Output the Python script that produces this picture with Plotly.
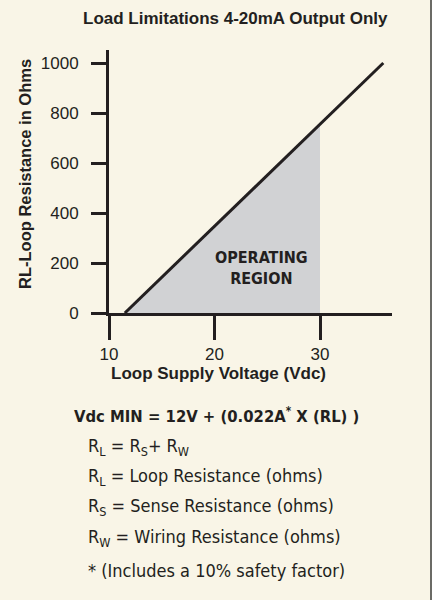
import plotly.graph_objects as go

# ---- data ----
line_v = [11.5, 36.0]        # Loop supply voltage (Vdc)
line_r = [0, 1000]           # RL loop resistance (ohms)
region_v = [11.5, 30.0]
region_r = [0, 755]
x_ticks = [10, 20, 30]
y_ticks = [0, 200, 400, 600, 800, 1000]

INK = "#231f20"
CREAM = "#f9f5e7"
GREY = "#d1d2d4"
SANS = "Liberation Sans, Arial, Helvetica, sans-serif"
COND = "Liberation Sans Narrow, DejaVu Sans Condensed, Roboto, sans-serif"

W, H = 430, 600
L, R, T, B = 109, 392, 50, 313


def px(x):
    return (x - L) / (R - L)


def py(y):
    return (B - y) / (B - T)


fig = go.Figure()
fig.add_trace(go.Scatter(x=region_v, y=region_r, mode="lines", line=dict(width=0, color=GREY),
                         fill="tozeroy", fillcolor=GREY, hoverinfo="skip", showlegend=False))
fig.add_trace(go.Scatter(x=line_v, y=line_r, mode="lines", line=dict(width=3, color=INK),
                         showlegend=False))

ann = []
ann.append(dict(text="<b>Load Limitations 4-20mA Output Only</b>", x=px(235), y=py(18),
                font=dict(family=SANS, size=17, color=INK)))
ann.append(dict(text="<b>RL-Loop Resistance in Ohms</b>", x=px(25), y=py(174), textangle=-90,
                font=dict(family=SANS, size=16.5, color=INK)))
ann.append(dict(text="<b>Loop Supply Voltage (Vdc)</b>", x=px(218), y=py(373),
                font=dict(family=SANS, size=17, color=INK)))
ann.append(dict(text="<b>OPERATING<br>REGION</b>", x=px(261), y=py(268),
                font=dict(family=COND, size=16, color=INK)))
ann.append(dict(text="<b>Vdc MIN = 12V + (0.022A<sup>*</sup> X (RL) )</b>", x=px(72), y=py(415),
                xanchor="left", font=dict(family=COND, size=16.5, color=INK)))
lines = [
    ("R<sub>L</sub> = R<sub>S</sub>+ R<sub>W</sub>", 447),
    ("R<sub>L</sub> = Loop Resistance (ohms)", 477),
    ("R<sub>S</sub> = Sense Resistance (ohms)", 507),
    ("R<sub>W</sub> = Wiring Resistance (ohms)", 538),
    ("* (Includes a 10% safety factor)", 570),
]
for t, yy in lines:
    ann.append(dict(text=t, x=px(86), y=py(yy), xanchor="left",
                    font=dict(family=COND, size=18, color=INK)))
for a in ann:
    a.update(xref="paper", yref="paper", showarrow=False)
    a.setdefault("xanchor", "center")
    a.setdefault("yanchor", "middle")

fig.update_layout(
    width=W, height=H,
    margin=dict(l=L, r=W - R, t=T, b=H - B, pad=0),
    paper_bgcolor=CREAM, plot_bgcolor=CREAM,
    annotations=ann,
    xaxis=dict(range=[10, 10 + (R - L) / 10.55], tickvals=x_ticks, ticks="outside", ticklen=24,
               tickwidth=3, tickcolor=INK, showline=True, linewidth=3, linecolor=INK,
               showgrid=False, zeroline=False, tickfont=dict(family=SANS, size=17, color=INK)),
    yaxis=dict(range=[0, (B - T) / 0.25], tickvals=y_ticks, ticks="outside", ticklen=15,
               tickwidth=3, tickcolor=INK, showline=True, linewidth=3, linecolor=INK,
               showgrid=False, zeroline=False, ticklabelstandoff=9,
               tickfont=dict(family=SANS, size=17, color=INK)),
)

post = (
    "document.body.style.margin='0';"
    "document.body.style.background='white';"
    "document.querySelectorAll('.plotly-graph-div').forEach(function(d){"
    "d.style.borderRight='2px solid #6b6b66';});"
)
fig.write_html("out.html", config={"displayModeBar": False}, post_script=post)
